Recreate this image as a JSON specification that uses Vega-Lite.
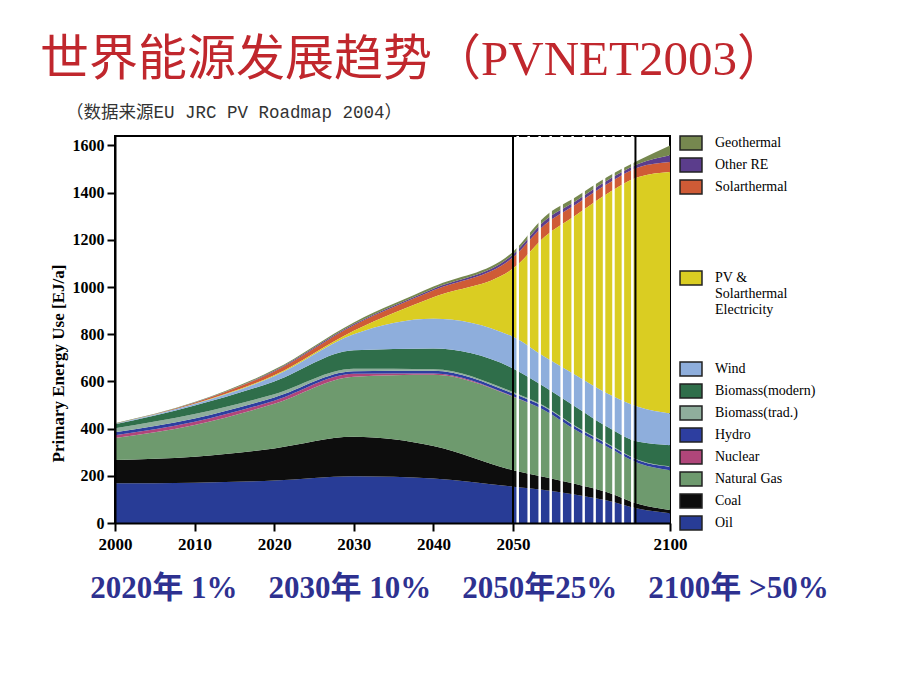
{
  "$schema": "https://vega.github.io/schema/vega-lite/v6.json",
  "width": 555,
  "height": 387,
  "autosize": {"type": "none"},
  "padding": {"left": 115, "top": 136, "right": 250, "bottom": 167},
  "background": "white",
  "config": {
    "view": {"stroke": "black", "strokeWidth": 2},
    "legend": {
      "orient": "none",
      "title": null,
      "symbolType": "M-1.073,-0.683L1.073,-0.683L1.073,0.683L-1.073,0.683Z",
      "symbolSize": 420,
      "symbolStrokeColor": "#222222",
      "symbolStrokeWidth": 1.5,
      "symbolOpacity": 1,
      "labelFont": "Liberation Serif",
      "labelFontSize": 14,
      "labelColor": "black",
      "labelOffset": 13,
      "labelLimit": 200,
      "labelBaseline": "middle",
      "rowPadding": 1
    }
  },
  "title": {
    "text": "世界能源发展趋势（PVNET2003）",
    "subtitle": "\u2800\u2800（数据来源EU JRC PV Roadmap 2004）",
    "anchor": "start",
    "frame": "group",
    "dx": -75,
    "offset": 11,
    "font": "Liberation Serif, Noto Sans CJK SC",
    "fontSize": 49,
    "fontWeight": "normal",
    "color": "#c0272d",
    "subtitleFont": "Liberation Mono, Noto Sans CJK SC",
    "subtitleFontSize": 17.5,
    "subtitleColor": "#333333",
    "subtitlePadding": 19
  },
  "datasets": {
    "ranks": [
      {"source": "Oil", "rank": 1}, {"source": "Coal", "rank": 2}, {"source": "Natural Gas", "rank": 3}, {"source": "Nuclear", "rank": 4}, {"source": "Hydro", "rank": 5}, {"source": "Biomass(trad.)", "rank": 6}, {"source": "Biomass(modern)", "rank": 7}, {"source": "Wind", "rank": 8}, {"source": "PV & Solarthermal Electricity", "rank": 9}, {"source": "Solarthermal", "rank": 10}, {"source": "Other RE", "rank": 11}, {"source": "Geothermal", "rank": 12}
    ],
    "energy": [
      {"year": 2000, "source": "Oil", "value": 168}, {"year": 2000, "source": "Coal", "value": 99}, {"year": 2000, "source": "Natural Gas", "value": 93}, {"year": 2000, "source": "Nuclear", "value": 12}, {"year": 2000, "source": "Hydro", "value": 13}, {"year": 2000, "source": "Biomass(trad.)", "value": 17}, {"year": 2000, "source": "Biomass(modern)", "value": 16}, {"year": 2000, "source": "Wind", "value": 2}, {"year": 2000, "source": "PV & Solarthermal Electricity", "value": 0}, {"year": 2000, "source": "Solarthermal", "value": 1}, {"year": 2000, "source": "Other RE", "value": 0}, {"year": 2000, "source": "Geothermal", "value": 2},
      {"year": 2010, "source": "Oil", "value": 171}, {"year": 2010, "source": "Coal", "value": 110}, {"year": 2010, "source": "Natural Gas", "value": 134}, {"year": 2010, "source": "Nuclear", "value": 14}, {"year": 2010, "source": "Hydro", "value": 14}, {"year": 2010, "source": "Biomass(trad.)", "value": 19}, {"year": 2010, "source": "Biomass(modern)", "value": 36}, {"year": 2010, "source": "Wind", "value": 6}, {"year": 2010, "source": "PV & Solarthermal Electricity", "value": 1}, {"year": 2010, "source": "Solarthermal", "value": 5}, {"year": 2010, "source": "Other RE", "value": 1}, {"year": 2010, "source": "Geothermal", "value": 2},
      {"year": 2020, "source": "Oil", "value": 180}, {"year": 2020, "source": "Coal", "value": 136}, {"year": 2020, "source": "Natural Gas", "value": 189}, {"year": 2020, "source": "Nuclear", "value": 13}, {"year": 2020, "source": "Hydro", "value": 14}, {"year": 2020, "source": "Biomass(trad.)", "value": 14}, {"year": 2020, "source": "Biomass(modern)", "value": 54}, {"year": 2020, "source": "Wind", "value": 22}, {"year": 2020, "source": "PV & Solarthermal Electricity", "value": 4}, {"year": 2020, "source": "Solarthermal", "value": 16}, {"year": 2020, "source": "Other RE", "value": 3}, {"year": 2020, "source": "Geothermal", "value": 5},
      {"year": 2030, "source": "Oil", "value": 198}, {"year": 2030, "source": "Coal", "value": 167}, {"year": 2030, "source": "Natural Gas", "value": 255}, {"year": 2030, "source": "Nuclear", "value": 12}, {"year": 2030, "source": "Hydro", "value": 11}, {"year": 2030, "source": "Biomass(trad.)", "value": 11}, {"year": 2030, "source": "Biomass(modern)", "value": 78}, {"year": 2030, "source": "Wind", "value": 68}, {"year": 2030, "source": "PV & Solarthermal Electricity", "value": 15}, {"year": 2030, "source": "Solarthermal", "value": 23}, {"year": 2030, "source": "Other RE", "value": 5}, {"year": 2030, "source": "Geothermal", "value": 7},
      {"year": 2040, "source": "Oil", "value": 189}, {"year": 2040, "source": "Coal", "value": 137}, {"year": 2040, "source": "Natural Gas", "value": 302}, {"year": 2040, "source": "Nuclear", "value": 6}, {"year": 2040, "source": "Hydro", "value": 11}, {"year": 2040, "source": "Biomass(trad.)", "value": 7}, {"year": 2040, "source": "Biomass(modern)", "value": 87}, {"year": 2040, "source": "Wind", "value": 127}, {"year": 2040, "source": "PV & Solarthermal Electricity", "value": 91}, {"year": 2040, "source": "Solarthermal", "value": 29}, {"year": 2040, "source": "Other RE", "value": 7}, {"year": 2040, "source": "Geothermal", "value": 9},
      {"year": 2050, "source": "Oil", "value": 154}, {"year": 2050, "source": "Coal", "value": 70}, {"year": 2050, "source": "Natural Gas", "value": 311}, {"year": 2050, "source": "Nuclear", "value": 2}, {"year": 2050, "source": "Hydro", "value": 12}, {"year": 2050, "source": "Biomass(trad.)", "value": 6}, {"year": 2050, "source": "Biomass(modern)", "value": 100}, {"year": 2050, "source": "Wind", "value": 134}, {"year": 2050, "source": "PV & Solarthermal Electricity", "value": 289}, {"year": 2050, "source": "Solarthermal", "value": 48}, {"year": 2050, "source": "Other RE", "value": 12}, {"year": 2050, "source": "Geothermal", "value": 12},
      {"year": 2060, "source": "Oil", "value": 140}, {"year": 2060, "source": "Coal", "value": 55}, {"year": 2060, "source": "Natural Gas", "value": 283}, {"year": 2060, "source": "Nuclear", "value": 0}, {"year": 2060, "source": "Hydro", "value": 14}, {"year": 2060, "source": "Biomass(trad.)", "value": 4}, {"year": 2060, "source": "Biomass(modern)", "value": 81}, {"year": 2060, "source": "Wind", "value": 127}, {"year": 2060, "source": "PV & Solarthermal Electricity", "value": 508}, {"year": 2060, "source": "Solarthermal", "value": 51}, {"year": 2060, "source": "Other RE", "value": 17}, {"year": 2060, "source": "Geothermal", "value": 17},
      {"year": 2070, "source": "Oil", "value": 120}, {"year": 2070, "source": "Coal", "value": 45}, {"year": 2070, "source": "Natural Gas", "value": 229}, {"year": 2070, "source": "Nuclear", "value": 0}, {"year": 2070, "source": "Hydro", "value": 13}, {"year": 2070, "source": "Biomass(trad.)", "value": 3}, {"year": 2070, "source": "Biomass(modern)", "value": 82}, {"year": 2070, "source": "Wind", "value": 134}, {"year": 2070, "source": "PV & Solarthermal Electricity", "value": 678}, {"year": 2070, "source": "Solarthermal", "value": 46}, {"year": 2070, "source": "Other RE", "value": 15}, {"year": 2070, "source": "Geothermal", "value": 16},
      {"year": 2080, "source": "Oil", "value": 95}, {"year": 2080, "source": "Coal", "value": 35}, {"year": 2080, "source": "Natural Gas", "value": 193}, {"year": 2080, "source": "Nuclear", "value": 0}, {"year": 2080, "source": "Hydro", "value": 12}, {"year": 2080, "source": "Biomass(trad.)", "value": 3}, {"year": 2080, "source": "Biomass(modern)", "value": 70}, {"year": 2080, "source": "Wind", "value": 141}, {"year": 2080, "source": "PV & Solarthermal Electricity", "value": 846}, {"year": 2080, "source": "Solarthermal", "value": 42}, {"year": 2080, "source": "Other RE", "value": 14}, {"year": 2080, "source": "Geothermal", "value": 15},
      {"year": 2090, "source": "Oil", "value": 60}, {"year": 2090, "source": "Coal", "value": 20}, {"year": 2090, "source": "Natural Gas", "value": 173}, {"year": 2090, "source": "Nuclear", "value": 0}, {"year": 2090, "source": "Hydro", "value": 12}, {"year": 2090, "source": "Biomass(trad.)", "value": 2}, {"year": 2090, "source": "Biomass(modern)", "value": 77}, {"year": 2090, "source": "Wind", "value": 148}, {"year": 2090, "source": "PV & Solarthermal Electricity", "value": 974}, {"year": 2090, "source": "Solarthermal", "value": 42}, {"year": 2090, "source": "Other RE", "value": 14}, {"year": 2090, "source": "Geothermal", "value": 15},
      {"year": 2100, "source": "Oil", "value": 41}, {"year": 2100, "source": "Coal", "value": 14}, {"year": 2100, "source": "Natural Gas", "value": 169}, {"year": 2100, "source": "Nuclear", "value": 0}, {"year": 2100, "source": "Hydro", "value": 14}, {"year": 2100, "source": "Biomass(trad.)", "value": 2}, {"year": 2100, "source": "Biomass(modern)", "value": 90}, {"year": 2100, "source": "Wind", "value": 134}, {"year": 2100, "source": "PV & Solarthermal Electricity", "value": 1023}, {"year": 2100, "source": "Solarthermal", "value": 43}, {"year": 2100, "source": "Other RE", "value": 28}, {"year": 2100, "source": "Geothermal", "value": 42}
    ],
    "stripes": [
      {"year": 2051.5}, {"year": 2055}, {"year": 2058.5}, {"year": 2062}, {"year": 2065.5}, {"year": 2069}, {"year": 2072.5}, {"year": 2076}, {"year": 2079}, {"year": 2082}, {"year": 2085}, {"year": 2088}
    ],
    "frames": [{"year": 2050}, {"year": 2089}]
  },
  "layer": [
    {
      "data": {"name": "energy"},
      "transform": [
        {"lookup": "source", "from": {"data": {"name": "ranks"}, "key": "source", "fields": ["rank"]}},
        {"stack": "value", "groupby": ["year"], "sort": [{"field": "rank", "order": "ascending"}], "as": ["y0", "y1"]}
      ],
      "encoding": {
        "x": {
          "field": "year",
          "type": "quantitative",
          "scale": {"domain": [2000, 2050, 2100], "range": [0, 398, 555], "nice": false, "zero": false},
          "axis": {
            "values": [2000, 2010, 2020, 2030, 2040, 2050, 2100],
            "format": "d",
            "grid": false,
            "zindex": 1,
            "labelFlush": false,
            "labelFont": "Liberation Serif",
            "labelFontWeight": "bold",
            "labelFontSize": 17,
            "labelColor": "black",
            "labelPadding": 5,
            "tickColor": "black",
            "tickSize": 8,
            "tickWidth": 2,
            "domainColor": "black",
            "domainWidth": 2,
            "title": "2020年\u00a01%\u00a0\u00a0\u00a0\u00a02030年\u00a010%\u00a0\u00a0\u00a0\u00a02050年25%\u00a0\u00a0\u00a0\u00a02100年\u00a0>50%",
            "titleFont": "Liberation Serif, Noto Sans CJK SC",
            "titleFontSize": 31,
            "titleFontWeight": "bold",
            "titleColor": "#2e3190",
            "titleX": 344,
            "titleY": 74,
            "titleAlign": "center",
            "titleBaseline": "alphabetic"
          }
        },
        "y": {
          "field": "y1",
          "type": "quantitative",
          "scale": {"domain": [0, 1640], "nice": false},
          "axis": {
            "values": [0, 200, 400, 600, 800, 1000, 1200, 1400, 1600],
            "format": "d",
            "grid": false,
            "zindex": 1,
            "labelFont": "Liberation Serif",
            "labelFontWeight": "bold",
            "labelFontSize": 16,
            "labelColor": "black",
            "labelPadding": 3,
            "tickColor": "black",
            "tickSize": 8,
            "tickWidth": 2,
            "domainColor": "black",
            "domainWidth": 2,
            "title": "Primary Energy Use [EJ/a]",
            "titleFont": "Liberation Serif",
            "titleFontSize": 17,
            "titleFontWeight": "bold",
            "titleColor": "black",
            "titleX": -57,
            "titleY": 227,
            "titleAlign": "center",
            "titleBaseline": "middle"
          }
        },
        "y2": {"field": "y0"}
      },
      "layer": [
        {
          "transform": [{"filter": {"field": "source", "oneOf": ["Geothermal", "Other RE", "Solarthermal"]}}],
          "mark": {"type": "area", "interpolate": "monotone"},
          "encoding": {
            "color": {
              "field": "source",
              "type": "nominal",
              "scale": {"domain": ["Geothermal", "Other RE", "Solarthermal"], "range": ["#76884f", "#5b3d8c", "#cf5b36"]},
              "legend": {"legendX": 565, "legendY": -4}
            }
          }
        },
        {
          "transform": [{"filter": {"field": "source", "equal": "PV & Solarthermal Electricity"}}],
          "mark": {"type": "area", "interpolate": "monotone"},
          "encoding": {
            "fill": {
              "field": "source",
              "type": "nominal",
              "scale": {"domain": ["PV & Solarthermal Electricity"], "range": ["#dacd22"]},
              "legend": {"legendX": 565, "legendY": 131, "labelExpr": "['PV  &', 'Solarthermal', 'Electricity']", "labelLineHeight": 17}
            }
          }
        },
        {
          "transform": [{"filter": {"field": "source", "oneOf": ["Wind", "Biomass(modern)", "Biomass(trad.)", "Hydro", "Nuclear", "Natural Gas", "Coal", "Oil"]}}],
          "mark": {"type": "area", "interpolate": "monotone"},
          "encoding": {
            "color": {
              "field": "source",
              "type": "nominal",
              "scale": {
                "domain": ["Wind", "Biomass(modern)", "Biomass(trad.)", "Hydro", "Nuclear", "Natural Gas", "Coal", "Oil"],
                "range": ["#8eaedc", "#2f6e4a", "#8fae9c", "#2d3ea0", "#b0467a", "#6e9a6e", "#0d0d0d", "#283c96"]
              },
              "legend": {"legendX": 565, "legendY": 222}
            }
          }
        }
      ],
      "resolve": {"scale": {"color": "independent", "fill": "independent"}, "legend": {"color": "independent"}}
    },
    {
      "data": {"name": "stripes"},
      "mark": {"type": "rule", "color": "white", "strokeWidth": 2.5},
      "encoding": {"x": {"field": "year", "type": "quantitative"}}
    },
    {
      "data": {"name": "frames"},
      "mark": {"type": "rule", "color": "black", "strokeWidth": 2},
      "encoding": {"x": {"field": "year", "type": "quantitative"}}
    }
  ]
}
